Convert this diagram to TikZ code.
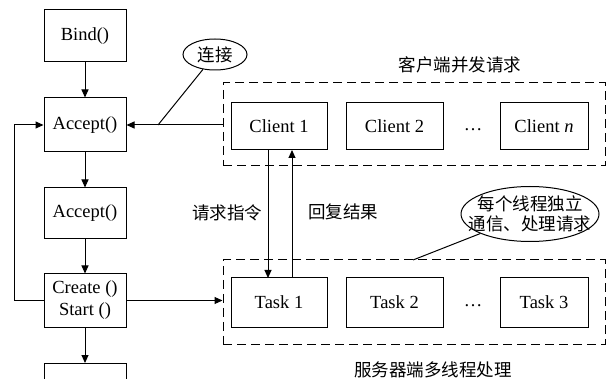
\documentclass[tikz,border=0pt]{standalone}
\usepackage{fontspec}
\setmainfont{Liberation Serif}
\newfontfamily\cjk{Noto Sans CJK SC}
\usetikzlibrary{arrows.meta,shapes.geometric}
\begin{document}
\begin{tikzpicture}[x=1pt,y=-1pt,
  line width=1pt,
  font=\fontsize{18.5}{22}\selectfont,
  box/.style={draw,rectangle,inner sep=0pt,minimum width=#1},
  box/.default=82pt,
  grp/.style={draw,rectangle,dash pattern=on 9pt off 5pt,inner sep=0pt,minimum width=382pt},
  bub/.style={draw,ellipse,inner sep=0pt,font=\cjk\fontsize{17.5}{20}\selectfont,align=center},
  lbl/.style={inner sep=0pt,font=\cjk\fontsize{17.5}{21}\selectfont},
  arr/.style={-{Triangle[length=8pt,width=7pt]}}]
\useasboundingbox (0,0) rectangle (613,379);
% left column
\node[box,minimum height=52pt] (bind) at (85,36) {Bind()};
\node[box,minimum height=54pt] (acc1) at (85,125) {Accept()};
\node[box,minimum height=51pt] (acc2) at (85,213.5) {Accept()};
\node[box,minimum height=53pt,align=center,font=\fontsize{18.5}{22}\selectfont] (cre) at (85,300.5) {Create ()\\Start ()};
\coordinate (bot) at (85,363);
\draw (44,385) -- (44,363) -- (126,363) -- (126,385);
% groups
\node[grp,minimum height=83pt] (cbox) at (414,124.5) {};
\node[grp,minimum height=84pt] (tbox) at (414,302) {};
\node[lbl] (ct) at (460,65) {客户端并发请求};
\node[lbl] (tt) at (433,370) {服务器端多线程处理};
% clients
\node[box=96pt,minimum height=47pt] (c1) at (279,126.5) {Client 1};
\node[box=97pt,minimum height=47pt] (c2) at (394.5,126.5) {Client 2};
\node[inner sep=0pt] (cd) at (473,130) {…};
\node[box=88pt,minimum height=47pt] (cn) at (544,126.5) {Client \textit{n}};
% tasks
\node[box=96pt,minimum height=49pt] (t1) at (279,302.5) {Task 1};
\node[box=97pt,minimum height=49pt] (t2) at (394.5,302.5) {Task 2};
\node[inner sep=0pt] (td) at (473,306) {…};
\node[box=88pt,minimum height=49pt] (t3) at (544,302.5) {Task 3};
% bubbles
\node[bub,minimum width=64pt,minimum height=31pt] (e1) at (215,54.5) {连接};
\node[bub,inner xsep=-12.5pt,minimum width=138pt,minimum height=55pt] (e2) at (530,214) {每个线程独立\\通信、处理请求};
\node[lbl] (l1) at (227,213) {请求指令};
\node[lbl] (l2) at (343,212) {回复结果};
% connectors
\draw[arr] (bind) -- (acc1);
\draw[arr] (acc1) -- (acc2);
\draw[arr] (acc2) -- (cre);
\draw[arr] (cre) -- (bot);
\draw[arr] (cre.west) -- ++(-29,0) |- (acc1.west);
\draw[arr] (acc1.east -| cbox.west) -- (acc1.east);
\coordinate (j1) at (158,125);
\draw (e1) -- (j1);
\draw[arr] (cre.east) -- (cre.east -| tbox.west);
\draw[arr] (268,150) -- (268,278);
\draw[arr] (292,278) -- (292,150);
\coordinate (j2) at (413,260);
\draw (e2) -- (j2);
\end{tikzpicture}
\end{document}
